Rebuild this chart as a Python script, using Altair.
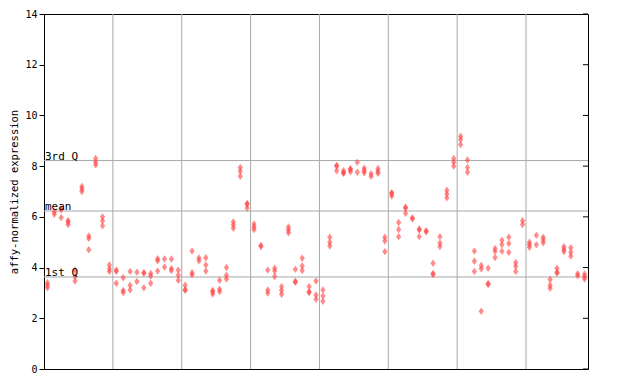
import altair as alt
import pandas as pd

# sample index (1..79) and replicate values
values = [
    [3.4, 3.3, 3.2], [6.2, 6.1], [6.3, 6.3, 5.97], [5.85, 5.8, 5.7], [3.9, 3.65, 3.47],
    [7.2, 7.1, 7.0], [5.25, 5.15, 4.7], [8.3, 8.15, 8.05], [6.0, 5.85, 5.65], [4.1, 3.95, 3.85],
    [3.9, 3.85, 3.38], [3.6, 3.1, 3.02], [3.85, 3.3, 3.12], [3.82, 3.45], [3.8, 3.78, 3.2],
    [3.77, 3.67, 3.38], [4.35, 4.27, 3.86], [4.34, 4.02], [4.34, 3.96, 3.88], [3.9, 3.7, 3.5],
    [3.3, 3.13, 3.1], [4.65, 3.8, 3.72], [4.38, 4.27], [4.39, 4.1, 3.86], [3.1, 3.05, 2.96],
    [3.5, 3.15, 3.05], [4.0, 3.7, 3.55], [5.8, 5.68, 5.55], [7.95, 7.8, 7.6], [6.53, 6.5, 6.35],
    [5.72, 5.6, 5.5], [4.87, 4.83], [3.9, 3.12, 3.0], [3.97, 3.86, 3.65], [3.25, 3.1, 2.95],
    [5.6, 5.48, 5.37], [3.93, 3.46, 3.42], [4.37, 4.06, 3.88], [3.25, 3.05, 3.02], [3.47, 2.92, 2.75],
    [3.12, 2.88, 2.67], [5.2, 5.0, 4.85], [8.03, 8.0, 7.82], [7.82, 7.74, 7.72], [7.9, 7.87, 7.78],
    [8.15, 7.76], [7.92, 7.83, 7.74], [7.7, 7.6], [7.91, 7.8, 7.72], [5.2, 5.05, 4.63],
    [6.95, 6.92, 6.82], [5.78, 5.5, 5.22], [6.38, 6.35, 6.14], [5.96, 5.92], [5.52, 5.48, 5.22],
    [5.45, 5.41], [4.17, 3.77, 3.73], [5.22, 4.97, 4.83], [7.05, 6.9, 6.75], [8.3, 8.15, 8.0],
    [9.18, 9.05, 8.85], [8.24, 7.95, 7.76], [4.65, 4.25, 3.85], [4.08, 3.95, 2.28], [3.97, 3.37, 3.33],
    [4.75, 4.64, 4.4], [5.08, 4.9, 4.64], [5.2, 4.95, 4.6], [4.2, 4.05, 3.85], [5.85, 5.7],
    [5.0, 4.9, 4.8], [5.27, 4.9], [5.2, 5.1, 4.98], [3.53, 3.3, 3.18], [3.97, 3.82, 3.78],
    [4.82, 4.72, 4.63], [4.78, 4.6, 4.45], [3.76, 3.68], [3.75, 3.65, 3.55],
]
group_breaks = [10.5, 20.5, 30.5, 40.5, 50.5, 60.5, 70.5]
q_labels = ["3rd Q", "mean", "1st Q"]
q_values = [8.22, 6.23, 3.63]
y_ticks = [0, 2, 4, 6, 8, 10, 12, 14]

rows = [{"sample": i + 1, "value": v} for i, vs in enumerate(values) for v in vs]
pts = pd.DataFrame(rows)
qdf = pd.DataFrame({"label": q_labels, "value": q_values, "x0": [0.5] * len(q_labels)})
gdf = pd.DataFrame({"x": group_breaks})
tdf = pd.DataFrame({"y": y_ticks, "xa": [79.5 - 0.73] * len(y_ticks), "xb": [79.5] * len(y_ticks)})

font = "DejaVu Sans Mono"
xs = alt.Scale(domain=[0.5, 79.5], nice=False, zero=False)
ys = alt.Scale(domain=[0, 14], nice=False)
yaxis = alt.Axis(
    values=y_ticks, title="affy-normalized expression", grid=False,
    tickSize=5, tickColor="black", domainColor="black",
    labelFont=font, labelFontSize=10, labelColor="black", labelPadding=2,
    titleFont=font, titleFontSize=10.5, titleFontWeight="normal",
    titleColor="black", titlePadding=5,
)

def X(field):
    return alt.X(field, type="quantitative", scale=xs, axis=None)

def Y(field):
    return alt.Y(field, type="quantitative", scale=ys, axis=yaxis)

vgrid = alt.Chart(gdf).mark_rule(color="#a8a8a8", strokeWidth=1).encode(x=X("x"))
hgrid = alt.Chart(qdf).mark_rule(color="#a8a8a8", strokeWidth=1).encode(y=Y("value"))
qtext = alt.Chart(qdf).mark_text(
    align="left", baseline="bottom", font=font, fontSize=11, dx=1, dy=1, color="black"
).encode(x=X("x0"), y=Y("value"), text=alt.Text("label", type="nominal"))
rticks = alt.Chart(tdf).mark_rule(color="black").encode(
    x=X("xa"), x2=alt.X2("xb"), y=Y("y")
)
points = alt.Chart(pts).mark_point(
    shape="M0,-1L0.7,0L0,1L-0.7,0Z", filled=True, size=55,
    color="#ff4444", opacity=0.62, strokeWidth=0,
).encode(x=X("sample"), y=Y("value"))

chart = alt.layer(vgrid, hgrid, rticks, points, qtext).properties(
    width=544, height=355,
    autosize=alt.AutoSizeParams(type="none"),
    padding={"left": 36, "top": 6, "right": 10, "bottom": 5},
).configure_view(stroke="black", strokeWidth=1)

chart.save("out.html", embed_options={"renderer": "svg", "actions": False})
